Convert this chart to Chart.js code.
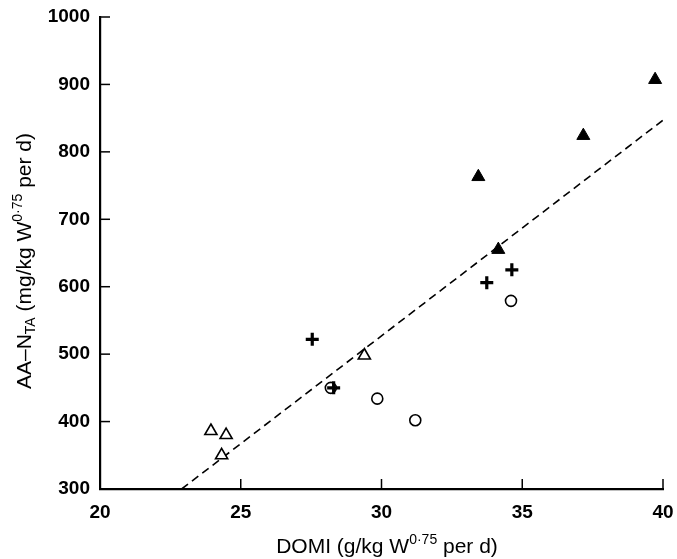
<!DOCTYPE html>
<html>
<head>
<meta charset="utf-8">
<script src="https://cdn.jsdelivr.net/npm/chart.js@4/dist/chart.umd.min.js"></script>
<style>
    body { margin: 0; background: #fff; }
    #wrap { width: 677px; height: 559px; }
</style>
</head>
<body>
<div id="wrap"><canvas id="scatterChart" width="677" height="559"></canvas></div>
<script>
// Values

// filled triangles
const filledTriX = [33.44, 34.15, 37.17, 39.72];
const filledTriY = [763, 655, 824, 907];

// open triangles
const openTriX = [23.94, 24.48, 24.32, 29.39];
const openTriY = [386, 380, 350, 498];

// open circles
const circleX = [28.2, 29.85, 31.2, 34.6];
const circleY = [450, 434, 402, 579];

// plus signs
const plusX = [27.54, 28.3, 33.74, 34.63];
const plusY = [522, 450, 606, 625];

// dashed fitted line (two ends)
const lineX = [22.9, 40];
const lineY = [300, 847];

// axes
const xTicks = [20, 25, 30, 35, 40];
const yTicks = [300, 400, 500, 600, 700, 800, 900, 1000];

const xTitleParts = [
    { text: 'DOMI (g/kg W' },
    { text: '0\u00b775', sup: true },
    { text: ' per d)' }
];
const yTitleParts = [
    { text: 'AA\u2013N' },
    { text: 'TA', sub: true },
    { text: ' (mg/kg W' },
    { text: '0\u00b775', sup: true },
    { text: ' per d)' }
];

const FONT = '"Liberation Sans", Arial, sans-serif';

function toPoints(xs, ys) {
    return xs.map((x, i) => ({ x: x, y: ys[i] }));
}

// draws text with sub/superscripts centred on (cx, baseline)
function drawRichText(ctx, parts, cx, baseline) {
    const size = 21;
    const small = 14;
    let total = 0;
    parts.forEach(p => {
        ctx.font = (p.sup || p.sub ? small : size) + 'px ' + FONT;
        p.w = ctx.measureText(p.text).width;
        total += p.w;
    });
    let x = cx - total / 2;
    ctx.textAlign = 'left';
    ctx.textBaseline = 'alphabetic';
    parts.forEach(p => {
        ctx.font = (p.sup || p.sub ? small : size) + 'px ' + FONT;
        let y = baseline;
        if (p.sup) y -= 9;
        if (p.sub) y += 4;
        ctx.fillText(p.text, x, y);
        x += p.w;
    });
}

// inward tick marks and the axis titles
const axisDecor = {
    id: 'axisDecor',
    afterDraw(chart) {
        const ctx = chart.ctx;
        const area = chart.chartArea;
        const xs = chart.scales.x;
        const ys = chart.scales.y;

        ctx.save();
        ctx.strokeStyle = '#000';
        ctx.lineWidth = 1.5;
        xs.ticks.forEach(t => {
            const px = xs.getPixelForValue(t.value);
            ctx.beginPath();
            ctx.moveTo(px, area.bottom);
            ctx.lineTo(px, area.bottom - 10);
            ctx.stroke();
        });
        ys.ticks.forEach(t => {
            const py = ys.getPixelForValue(t.value);
            ctx.beginPath();
            ctx.moveTo(area.left, py);
            ctx.lineTo(area.left + 10, py);
            ctx.stroke();
        });

        ctx.fillStyle = '#000';
        drawRichText(ctx, xTitleParts, 387, 553);

        ctx.translate(31, 261);
        ctx.rotate(-Math.PI / 2);
        drawRichText(ctx, yTitleParts, 0, 0);
        ctx.restore();
    }
};

function noLabelPadding(scale) {
    scale.paddingLeft = 0;
    scale.paddingRight = 0;
    scale.paddingTop = 0;
    scale.paddingBottom = 0;
}

const ctx = document.getElementById('scatterChart');

// Chart.js paints the first dataset on top, so the plus signs come first
new Chart(ctx, {
    type: 'scatter',
    data: {
        datasets: [
            {
                data: toPoints(plusX, plusY),
                pointStyle: 'cross',
                pointRadius: 6.5,
                backgroundColor: '#000',
                borderColor: '#000',
                borderWidth: 3.2
            },
            {
                data: toPoints(filledTriX, filledTriY),
                pointStyle: 'triangle',
                pointRadius: 7.5,
                backgroundColor: '#000',
                borderColor: '#000',
                borderWidth: 1
            },
            {
                data: toPoints(openTriX, openTriY),
                pointStyle: 'triangle',
                pointRadius: 7,
                backgroundColor: '#fff',
                borderColor: '#000',
                borderWidth: 1.6
            },
            {
                data: toPoints(circleX, circleY),
                pointStyle: 'circle',
                pointRadius: 5.5,
                backgroundColor: '#fff',
                borderColor: '#000',
                borderWidth: 1.6
            },
            {
                type: 'line',
                data: toPoints(lineX, lineY),
                borderColor: '#000',
                borderWidth: 1.6,
                borderDash: [8, 5],
                pointRadius: 0,
                fill: false
            }
        ]
    },
    options: {
        responsive: false,
        animation: false,
        events: [],
        layout: {
            padding: { left: 0, right: 14, top: 17, bottom: 0 }
        },
        plugins: {
            legend: { display: false },
            tooltip: { enabled: false }
        },
        scales: {
            x: {
                type: 'linear',
                min: 20,
                max: 40,
                afterFit: function(scale) {
                    scale.height = 70;
                    noLabelPadding(scale);
                },
                afterBuildTicks: function(scale) {
                    scale.ticks = xTicks.map(v => ({ value: v }));
                },
                grid: { display: false, drawTicks: false },
                border: { display: true, color: '#000', width: 2.2 },
                ticks: {
                    padding: 12,
                    color: '#000',
                    font: { family: FONT, size: 19, weight: 'bold' },
                    callback: function(value) { return String(value); }
                }
            },
            y: {
                type: 'linear',
                min: 300,
                max: 1000,
                afterFit: function(scale) {
                    scale.width = 100;
                    noLabelPadding(scale);
                },
                afterBuildTicks: function(scale) {
                    scale.ticks = yTicks.map(v => ({ value: v }));
                },
                grid: { display: false, drawTicks: false },
                border: { display: true, color: '#000', width: 2.2 },
                ticks: {
                    padding: 10,
                    color: '#000',
                    font: { family: FONT, size: 19, weight: 'bold' },
                    callback: function(value) { return String(value); }
                }
            }
        }
    },
    plugins: [axisDecor]
});
</script>
</body>
</html>
